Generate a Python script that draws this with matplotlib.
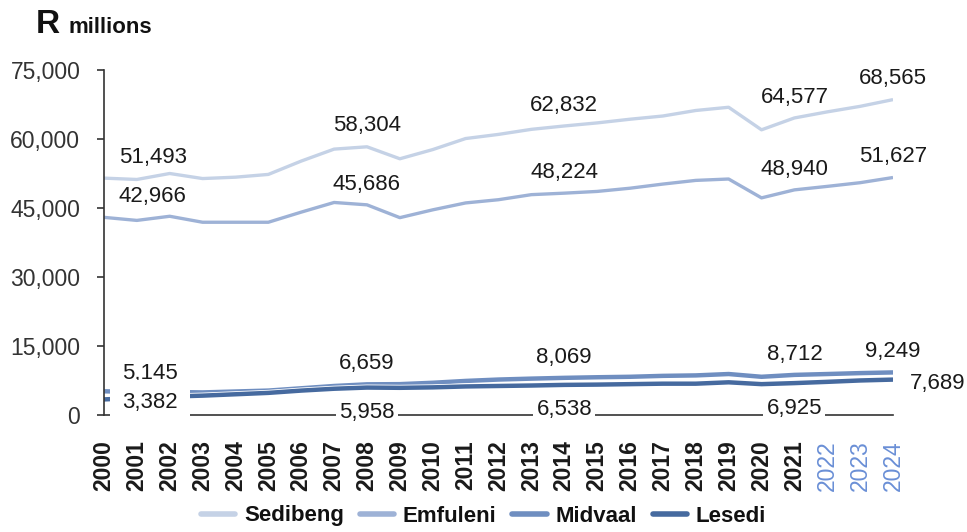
import matplotlib
matplotlib.use("Agg")
import matplotlib.pyplot as plt
import matplotlib.patheffects as pe
from matplotlib.ticker import FuncFormatter

plt.rcParams['font.family'] = ['Liberation Sans', 'DejaVu Sans']

years = list(range(2000, 2025))
forecast_years = [2022, 2023, 2024]

sedibeng = [51493, 51200, 52500, 51400, 51700, 52300, 55200, 57800, 58304, 55700,
            57700, 60100, 61000, 62100, 62832, 63500, 64300, 65000, 66200, 66900,
            62000, 64577, 65900, 67100, 68565]
emfuleni = [42966, 42300, 43200, 41900, 41900, 41900, 44100, 46200, 45686, 42900,
            44600, 46100, 46800, 47900, 48224, 48600, 49300, 50200, 51000, 51300,
            47200, 48940, 49700, 50500, 51627]
midvaal = [5145, 5000, 5000, 4900, 5100, 5300, 5800, 6300, 6659, 6700,
           7000, 7400, 7700, 7900, 8069, 8200, 8300, 8500, 8600, 8900,
           8300, 8712, 8900, 9100, 9249]
lesedi = [3382, 3700, 4000, 4200, 4500, 4800, 5300, 5700, 5958, 5900,
          6000, 6200, 6300, 6400, 6538, 6600, 6700, 6800, 6800, 7100,
          6700, 6925, 7200, 7500, 7689]

labelled_years = [2000, 2008, 2014, 2021, 2024]

series = [
    ("Sedibeng", sedibeng, "#c5d2e6", 2.4),
    ("Emfuleni", emfuleni, "#9eb2d6", 2.4),
    ("Midvaal", midvaal, "#6f8ec0", 3.2),
    ("Lesedi", lesedi, "#466a9f", 3.2),
]

fig = plt.figure(figsize=(9.67, 5.32), dpi=100)
ax = fig.add_axes([0.1075, 0.22, 0.816, 0.6484])

for name, vals, color, lw in series:
    effects = None
    if lw > 3:
        effects = [pe.Stroke(linewidth=lw + 1.2, foreground="white"), pe.Normal()]
    ax.plot(years, vals, color=color, lw=lw, label=name,
            solid_capstyle="butt", path_effects=effects, zorder=2)


def label(text, xy, off, pad=0.08):
    ax.annotate(text, xy, xytext=off, textcoords="offset points",
                fontsize=16, color="#1a1a1a", ha="center", va="center",
                bbox=dict(boxstyle=f"square,pad={pad}", fc="white", ec="none"),
                zorder=5)


# labels above the line for the three upper series
for name, vals, color, lw in series[:3]:
    for yr in labelled_years:
        v = vals[years.index(yr)]
        if yr == 2000 and name == "Midvaal":
            label(f"{v:,}", (yr, v), (33, 13), pad=0.55)
        elif yr == 2000:
            label(f"{v:,}", (yr, v), (35, 15))
        else:
            label(f"{v:,}", (yr, v), (0, 15))

# Lesedi labels sit below the line, end points to the side
for yr in labelled_years:
    v = lesedi[years.index(yr)]
    if yr == 2000:
        label(f"{v:,}", (yr, v), (33, -2.5), pad=0.55)
    elif yr == 2024:
        label(f"{v:,}", (yr, v), (32, -2.5))
    else:
        label(f"{v:,}", (yr, v), (0, -18), pad=0.15)

ax.set_xlim(2000, 2024)
ax.set_ylim(0, 75000)
ax.set_yticks(range(0, 75001, 15000))
ax.yaxis.set_major_formatter(FuncFormatter(lambda v, p: f"{int(v):,}"))
ax.set_xticks(years)
ax.set_xticklabels([str(y) for y in years], rotation=90, fontsize=16.5,
                   fontweight="bold", va="top", ha="center")
for lbl, yr in zip(ax.get_xticklabels(), years):
    lbl.set_color("#6a8fd6" if yr in forecast_years else "#1a1a1a")
    if yr in forecast_years:
        lbl.set_fontweight("normal")

ax.tick_params(axis="y", length=5, width=1.2, pad=12, labelsize=16.5,
               colors="#333333", direction="out")
ax.tick_params(axis="x", length=0, pad=18)

for side in ("top", "right"):
    ax.spines[side].set_visible(False)
for side in ("left", "bottom"):
    ax.spines[side].set_color("#333333")
    ax.spines[side].set_linewidth(1.2)

fig.text(0.037, 1 - 33 / 532, "R", fontsize=24, fontweight="bold",
         va="baseline", color="#111111")
fig.text(0.071, 1 - 33 / 532, "millions", fontsize=16, fontweight="bold",
         va="baseline", color="#111111")

leg = fig.legend(loc="center", bbox_to_anchor=(0.5, 1 - 516 / 532), ncol=4,
                 frameon=False, handlelength=1.55, handletextpad=0.4,
                 columnspacing=0.7, prop=dict(size=16, weight="bold"))
for h in leg.legend_handles:
    h.set_linewidth(4)
    h.set_solid_capstyle("round")
    h.set_path_effects([])
for t in leg.get_texts():
    t.set_color("#111111")

fig.savefig("out.png", dpi=100)
